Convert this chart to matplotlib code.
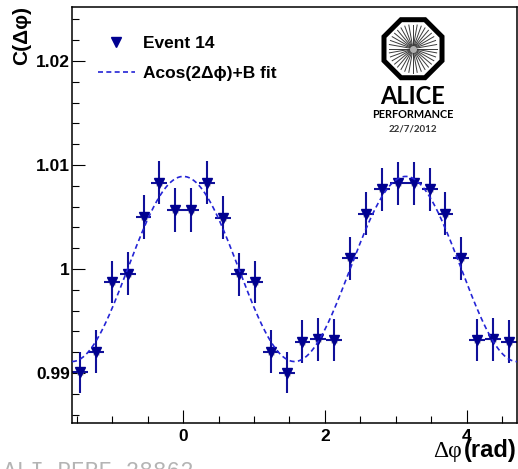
import numpy as np
import matplotlib
matplotlib.use('Agg')
import matplotlib.pyplot as plt
from matplotlib.patches import RegularPolygon

W, H = 518, 469

# 28 bins in dphi from -pi/2 to 3pi/2
N_BINS = 28
dphi_lo, dphi_hi = -np.pi / 2, 3 * np.pi / 2

corr = [0.99006, 0.99205, 0.99875, 0.99955, 1.00500, 1.00830, 1.00567,
        1.00567, 1.00830, 1.00493, 0.99949, 0.99875, 0.99205, 0.99003,
        0.99301, 0.99324, 0.99317, 1.00103, 1.00532, 1.00766, 1.00824,
        1.00824, 1.00766, 1.00532, 1.00103, 0.99317, 0.99324, 0.99301]
corr_err = [0.00198, 0.00205, 0.00205, 0.00205, 0.00207, 0.00208, 0.00207,
            0.00207, 0.00208, 0.00207, 0.00205, 0.00205, 0.00205, 0.00198,
            0.00205, 0.00205, 0.00205, 0.00207, 0.00207, 0.00208, 0.00208,
            0.00208, 0.00208, 0.00207, 0.00207, 0.00205, 0.00205, 0.00205]

# fit parameters
A_FIT = 0.0089
B_FIT = 1.0000

yticks = [0.99, 1.0, 1.01, 1.02]
ytick_labels = ['0.99', '1', '1.01', '1.02']
xticks = [0, 2, 4]
xtick_labels = ['0', '2', '4']

SANS = ['Liberation Sans', 'DejaVu Sans']
plt.rcParams['font.family'] = SANS
plt.rcParams['font.weight'] = 'bold'

edges = np.linspace(dphi_lo, dphi_hi, N_BINS + 1)
centers = 0.5 * (edges[1:] + edges[:-1])
half_w = 0.5 * (edges[1] - edges[0])

fig = plt.figure(figsize=(W / 100, H / 100), dpi=100)
ax = fig.add_axes([72 / W, 46 / H, 445 / W, 416 / H])

ax.errorbar(centers, corr, xerr=half_w, yerr=corr_err, fmt='none',
            ecolor='#10109a', elinewidth=1.5, capsize=0, zorder=2)
ax.plot(centers, corr, 's', color='#a8a8a8', ms=5, mec='none', zorder=2.5)
pts, = ax.plot(centers, corr, 'v', color='#000090', ms=6.5, mec='#000090',
               ls='none', zorder=3, label='Event 14')

xf = np.linspace(dphi_lo, dphi_hi, 400)
fit, = ax.plot(xf, A_FIT * np.cos(2 * xf) + B_FIT, color='#2424d6', lw=1.2,
               dashes=(3, 2), zorder=3.5, label='Acos(2\u0394\u03d5)+B fit')

ax.set_xlim(dphi_lo, dphi_hi)
ax.set_ylim(0.98519, 1.02519)
ax.set_xticks(xticks)
ax.set_xticklabels(xtick_labels)
ax.set_yticks(yticks)
ax.set_yticklabels(ytick_labels)
ax.set_xticks(np.arange(-1.5, 4.75, 0.5), minor=True)
ax.set_yticks(np.arange(0.986, 1.0251, 0.002), minor=True)
ax.tick_params(which='both', direction='in', top=False, right=False,
               labelsize=12.5, width=0.8, color='black')
ax.tick_params(which='major', length=9.5)
ax.tick_params(which='minor', length=5)
ax.tick_params(axis='y', pad=1.5)
ax.tick_params(axis='x', pad=4)
for s in ax.spines.values():
    s.set_linewidth(1.1)

ax.legend(handles=[pts, fit], loc='upper left',
          bbox_to_anchor=(26 / 445, 1 - 29 / 416), frameon=False,
          fontsize=12.5, handlelength=2.13, handletextpad=0.46,
          borderpad=0, borderaxespad=0, labelspacing=0.85, numpoints=1)

# axis titles
fig.text(22 / W, 1 - 6 / H, 'C(\u0394\u03c6)', rotation=90, ha='center',
         va='top', fontsize=15, fontweight='bold')
fig.text(517 / W, 1 - 457 / H, '(rad)', ha='right', va='baseline',
         fontsize=17, fontweight='bold')
fig.text(462 / W, 1 - 457 / H, '\u0394\u03c6', ha='right', va='baseline',
         fontsize=17, fontweight='normal',
         family=['Liberation Serif', 'DejaVu Serif'])

# watermark
fig.text(3 / W, 1 - 478 / H, 'ALI-PERF-28862', ha='left', va='baseline',
         fontsize=16.3, color='#b4b4b4', fontweight='normal',
         family=['Liberation Mono', 'DejaVu Sans Mono'])

# ALICE logo
lax = fig.add_axes([(413 - 40) / W, (H - 48.7 - 40) / H, 80 / W, 80 / H])
lax.set_xlim(-1, 1)
lax.set_ylim(-1, 1)
lax.axis('off')
lax.add_patch(RegularPolygon((0, 0), 8, radius=0.785, orientation=np.pi / 8,
                             fill=False, ec='black', lw=3.6))
for ang in np.linspace(0, np.pi, 18, endpoint=False):
    lax.plot([-0.6 * np.cos(ang), 0.6 * np.cos(ang)],
             [-0.6 * np.sin(ang), 0.6 * np.sin(ang)], color='#3a3a3a', lw=0.7)
lax.plot(0, 0, 'o', color='#b0b0b0', ms=4)

fig.text(413 / W, 1 - 104 / H, 'ALICE', ha='center', va='baseline',
         fontsize=17, fontweight='bold', family=['Lato', 'DejaVu Sans'])
fig.text(413 / W, 1 - 118.3 / H, 'PERFORMANCE', ha='center', va='baseline',
         fontsize=7.8, fontweight='bold', family=['Lato', 'DejaVu Sans'])
fig.text(413 / W, 1 - 131.7 / H, '22/7/2012', ha='center', va='baseline',
         fontsize=7, fontweight='bold', color='#333333',
         family=['Lato', 'DejaVu Sans'])

fig.savefig('out.png', dpi=100)
